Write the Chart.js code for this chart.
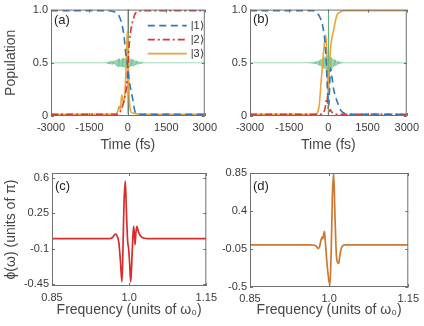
<!DOCTYPE html>
<html>
<head>
<meta charset="utf-8">
<script src="https://cdn.jsdelivr.net/npm/chart.js@4"></script>
<style>
  body { margin: 0; background: #fff; width: 424px; height: 326px; overflow: hidden; position: relative; }
  canvas { position: absolute; }
</style>
</head>
<body>
<canvas id="ca" width="222" height="163" style="left:0;top:0"></canvas>
<canvas id="cb" width="212" height="163" style="left:212px;top:0"></canvas>
<canvas id="cc" width="222" height="163" style="left:0;top:163px"></canvas>
<canvas id="cd" width="212" height="163" style="left:212px;top:163px"></canvas>
<script>
// tick values / labels
const timeTicks = [-3000, -1500, 0, 1500, 3000];
const timeLabels = ['-3000', '-1500', '0', '1500', '3000'];
const popTicks = [0, 0.5, 1];
const popLabels = ['0', '0.5', '1.0'];
const freqTicks = [0.85, 1.0, 1.15];
const freqLabels = ['0.85', '1.0', '1.15'];
const phiTicksC = [-0.45, -0.1, 0.25, 0.6];
const phiLabelsC = ['-0.45', '-0.1', '0.25', '0.6'];
const phiTicksD = [-0.5, -0.05, 0.4, 0.85];
const phiLabelsD = ['-0.5', '-0.05', '0.4', '0.85'];

// (a) populations
const tBlueA = [-3000, -800, -550, -400, -280, -150, -90, 0, 55, 180, 280, 400, 600, 3000];
const blueA = [0.99, 0.99, 0.98, 0.96, 0.9, 0.75, 0.6, 0.45, 0.33, 0.17, 0.04, 0.018, 0.015, 0.015];
const tRedA = [-3000, -400, -300, -200, -150, -30, 30, 100, 180, 280, 400, 600, 3000];
const redA = [0.015, 0.015, 0.04, 0.1, 0.15, 0.33, 0.6, 0.78, 0.88, 0.96, 0.98, 0.99, 0.99];
const tOrangeA = [-3000, -500, -430, -380, -340, -300, -270, -240, -200, -160, -120, -80, -40, -15, 10, 40, 80, 140, 250, 400, 3000];
const orangeA = [0.015, 0.015, 0.025, 0.06, 0.09, 0.06, 0.12, 0.2, 0.15, 0.12, 0.2, 0.4, 0.7, 0.8, 0.62, 0.25, 0.08, 0.035, 0.025, 0.018, 0.015];

// (b) populations
const tBlueB = [-3000, -600, -450, -330, -220, -100, -50, -10, 20, 50, 85, 130, 210, 300, 395, 480, 580, 750, 3000];
const blueB = [0.99, 0.99, 0.975, 0.93, 0.85, 0.6, 0.33, 0.12, 0.1, 0.3, 0.45, 0.38, 0.24, 0.16, 0.1, 0.05, 0.03, 0.015, 0.015];
const tRedB = [-3000, -300, -200, -130, -80, -50, -20, 20, 70, 120, 200, 350, 3000];
const redB = [0.015, 0.015, 0.03, 0.07, 0.15, 0.18, 0.1, 0.04, 0.06, 0.04, 0.025, 0.015, 0.015];
const tOrangeB = [-3000, -500, -420, -350, -285, -185, -130, -95, -60, -30, 0, 25, 60, 90, 150, 210, 330, 450, 600, 3000];
const orangeB = [0.015, 0.015, 0.03, 0.1, 0.3, 0.6, 0.72, 0.76, 0.6, 0.35, 0.2, 0.35, 0.55, 0.66, 0.75, 0.82, 0.95, 0.975, 0.99, 0.99];

// pulse field (shifted to 0.5)
const fieldT = [-3000,
  -900, -875, -850, -825, -800, -775, -750, -725, -700, -675,
  -650, -625, -600, -575, -550, -525, -500, -475, -450, -425,
  -400, -375, -350, -325, -300, -275, -250, -225, -200, -175,
  -150, -125, -100, -75, -50, -25, -5, 0, 5, 25,
  50, 75, 100, 125, 150, 175, 200, 225, 250, 275,
  300, 325, 350, 375, 400, 425, 450, 475, 500, 525,
  550, 575, 600, 625, 650, 675, 700, 725, 750, 775,
  800, 3000];
const fieldA = [0.5,
  0.5, 0.503, 0.496, 0.505, 0.494, 0.508, 0.491, 0.51, 0.488, 0.515,
  0.487, 0.52, 0.483, 0.518, 0.49, 0.512, 0.482, 0.525, 0.472, 0.53,
  0.466, 0.537, 0.462, 0.54, 0.468, 0.53, 0.463, 0.54, 0.46, 0.545,
  0.458, 0.54, 0.455, 0.548, 0.45, 0.55, 0.02, 1.0, 0.45, 0.545,
  0.458, 0.54, 0.465, 0.533, 0.47, 0.535, 0.468, 0.528, 0.475, 0.522,
  0.48, 0.518, 0.485, 0.514, 0.488, 0.512, 0.49, 0.508, 0.493, 0.506,
  0.496, 0.504, 0.497, 0.503, 0.498, 0.502, 0.499, 0.501, 0.5, 0.5,
  0.5, 0.5];
const fieldB = [0.5,
  0.5, 0.5, 0.501, 0.499, 0.502, 0.498, 0.503, 0.497, 0.504, 0.496,
  0.505, 0.495, 0.506, 0.494, 0.507, 0.492, 0.51, 0.489, 0.513, 0.485,
  0.518, 0.48, 0.523, 0.474, 0.53, 0.466, 0.538, 0.458, 0.546, 0.449,
  0.555, 0.441, 0.562, 0.436, 0.566, 0.435, 0.0, 1.0, 0.02, 0.56,
  0.443, 0.553, 0.45, 0.546, 0.457, 0.538, 0.465, 0.53, 0.472, 0.524,
  0.478, 0.518, 0.484, 0.513, 0.489, 0.509, 0.492, 0.506, 0.495, 0.504,
  0.497, 0.503, 0.498, 0.502, 0.499, 0.501, 0.5, 0.5, 0.5, 0.5,
  0.5, 0.5];

// (c), (d) spectral phase
const freqC = [0.85, 0.962, 0.967, 0.971, 0.974, 0.977, 0.980, 0.983, 0.986, 0.988, 0.990, 0.9925, 0.9945, 0.997, 0.999, 1.001, 1.003, 1.005, 1.0072, 1.0087, 1.0102, 1.0115, 1.013, 1.015, 1.018, 1.021, 1.025, 1.03, 1.035, 1.15];
const phiC = [0, 0, 0.008, 0.035, 0.045, 0.02, -0.04, -0.22, -0.43, -0.1, 0.35, 0.57, 0.3, -0.02, -0.1, -0.25, -0.43, -0.25, 0.02, 0.12, 0.04, -0.06, 0.05, 0.12, 0.07, 0.035, 0.012, 0.003, 0, 0];
const freqD = [0.85, 0.965, 0.972, 0.976, 0.979, 0.9815, 0.984, 0.9865, 0.988, 0.9895, 0.991, 0.9925, 0.995, 0.998, 1.0015, 1.004, 1.006, 1.0085, 1.011, 1.0135, 1.016, 1.018, 1.0205, 1.023, 1.026, 1.03, 1.15];
const phiD = [0, 0, -0.005, -0.02, -0.045, -0.03, 0.04, 0.09, 0.07, 0.12, 0.16, 0.06, -0.15, -0.35, -0.48, -0.05, 0.55, 0.85, 0.35, -0.1, -0.21, -0.22, -0.12, -0.04, -0.01, 0, 0];

const FONT = '"Liberation Sans", Arial, sans-serif';
Chart.defaults.font.family = FONT;
Chart.defaults.color = '#3a3a3a';
Chart.defaults.animation = false;

const blue = 'rgb(45,120,190)';
const red = 'rgb(220,55,45)';
const orange = 'rgb(232,165,60)';
const green = 'rgba(100,195,135,0.6)';

function pts(xs, ys) {
  return xs.map((x, i) => ({x: x, y: ys[i]}));
}

// frame, inward ticks, zero line, panel letter, legend
const boxPlugin = {
  id: 'box',
  beforeDatasetsDraw(chart, args, o) {
    if (!o.zero) return;
    const ctx = chart.ctx, a = chart.chartArea;
    const x0 = Math.round(chart.scales.x.getPixelForValue(0)) + 0.5;
    ctx.save();
    ctx.strokeStyle = '#666';
    ctx.lineWidth = 1;
    ctx.beginPath(); ctx.moveTo(x0, a.top); ctx.lineTo(x0, a.bottom); ctx.stroke();
    ctx.restore();
  },
  afterDatasetsDraw(chart, args, o) {
    const ctx = chart.ctx, a = chart.chartArea;
    const sx = chart.scales.x, sy = chart.scales.y;
    ctx.save();
    ctx.strokeStyle = '#707070';
    ctx.lineWidth = 1;
    ctx.strokeRect(a.left + 0.5, a.top + 0.5, a.width - 1, a.height - 1);
    ctx.beginPath();
    sx.ticks.forEach(t => {
      const x = Math.round(sx.getPixelForValue(t.value)) + 0.5;
      ctx.moveTo(x, a.bottom); ctx.lineTo(x, a.bottom - 3);
      ctx.moveTo(x, a.top); ctx.lineTo(x, a.top + 3);
    });
    sy.ticks.forEach(t => {
      const y = Math.round(sy.getPixelForValue(t.value)) + 0.5;
      ctx.moveTo(a.left, y); ctx.lineTo(a.left + 3, y);
      ctx.moveTo(a.right, y); ctx.lineTo(a.right - 3, y);
    });
    ctx.stroke();

    ctx.fillStyle = '#222';
    ctx.font = '13px ' + FONT;
    ctx.textBaseline = 'middle';
    ctx.fillText(o.label, a.left + 3, a.top + o.labelDy);

    if (o.legend) {
      ctx.font = '11px ' + FONT;
      chart.data.datasets.filter(d => d.label !== 'field').forEach((d, i) => {
        const y = a.top + 16 + i * 14;
        ctx.strokeStyle = d.borderColor;
        ctx.lineWidth = d.borderWidth;
        ctx.setLineDash(d.borderDash || []);
        ctx.beginPath(); ctx.moveTo(a.right - 57, y); ctx.lineTo(a.right - 18, y); ctx.stroke();
        ctx.setLineDash([]);
        ctx.fillStyle = '#333';
        ctx.fillText(d.label, a.right - 14, y);
      });
    }
    ctx.restore();
  }
};

function opts(p) {
  return {
    responsive: false,
    animation: false,
    layout: { padding: p.padding },
    elements: { point: { radius: 0 }, line: { borderWidth: 1.6 } },
    plugins: {
      legend: { display: false },
      tooltip: { enabled: false },
      box: { label: p.label, labelDy: p.labelDy, zero: p.zero, legend: p.legend }
    },
    scales: {
      x: {
        type: 'linear', min: p.xMin, max: p.xMax,
        grid: { display: false, drawTicks: false },
        border: { display: false },
        afterBuildTicks: s => { s.ticks = p.xTicks.map(v => ({ value: v })); },
        afterFit: s => { s.height = p.xHeight; },
        ticks: { autoSkip: false, maxRotation: 0, padding: 5, font: { size: 11 },
                 callback: (v, i) => p.xLabels[i] },
        title: { display: true, text: p.xTitle, color: '#454545', font: { size: 14 },
                 padding: { top: 0, bottom: p.xTitlePad } }
      },
      y: {
        min: p.yMin, max: p.yMax,
        grid: { display: false, drawTicks: false },
        border: { display: false },
        afterBuildTicks: s => { s.ticks = p.yTicks.map(v => ({ value: v })); },
        afterFit: s => { s.width = p.yWidth; },
        ticks: { autoSkip: false, padding: 3, font: { size: 11 },
                 callback: (v, i) => p.yLabels[i] },
        title: { display: !!p.yTitle, text: p.yTitle, color: '#454545', font: { size: 14 },
                 padding: { top: 0, bottom: 0 } }
      }
    }
  };
}

function popSets(tb, b, tr, r, to, or, f) {
  return [
    { label: '|1⟩', data: pts(tb, b), borderColor: blue, borderDash: [7, 4.5], borderWidth: 1.6, cubicInterpolationMode: 'monotone' },
    { label: '|2⟩', data: pts(tr, r), borderColor: red, borderDash: [7, 3, 2, 3], borderWidth: 1.6, cubicInterpolationMode: 'monotone' },
    { label: '|3⟩', data: pts(to, or), borderColor: orange, borderWidth: 1.6, cubicInterpolationMode: 'monotone' },
    { label: 'field', data: pts(fieldT, f), borderColor: green, borderWidth: 1, tension: 0 }
  ];
}

new Chart(document.getElementById('ca'), {
  type: 'line',
  data: { datasets: popSets(tBlueA, blueA, tRedA, redA, tOrangeA, orangeA, fieldA) },
  options: opts({
    padding: { left: 3, top: 6, right: 8, bottom: 6 }, yWidth: 48, xHeight: 41,
    xMin: -3000, xMax: 3000, xTicks: timeTicks, xLabels: timeLabels, xTitle: 'Time (fs)', xTitlePad: 3,
    yMin: 0, yMax: 1, yTicks: popTicks, yLabels: popLabels, yTitle: 'Population',
    label: '(a)', labelDy: 11, zero: true, legend: true
  }),
  plugins: [boxPlugin]
});

new Chart(document.getElementById('cb'), {
  type: 'line',
  data: { datasets: popSets(tBlueB, blueB, tRedB, redB, tOrangeB, orangeB, fieldB) },
  options: opts({
    padding: { left: 0, top: 6, right: 12, bottom: 6 }, yWidth: 38, xHeight: 41,
    xMin: -3000, xMax: 3000, xTicks: timeTicks, xLabels: timeLabels, xTitle: 'Time (fs)', xTitlePad: 3,
    yMin: 0, yMax: 1, yTicks: popTicks, yLabels: popLabels, yTitle: '',
    label: '(b)', labelDy: 10, zero: true, legend: false
  }),
  plugins: [boxPlugin]
});

new Chart(document.getElementById('cc'), {
  type: 'line',
  data: { datasets: [
    { label: 'phase', data: pts(freqC, phiC), borderColor: 'rgb(215,45,45)', borderWidth: 1.7, cubicInterpolationMode: 'monotone' }
  ] },
  options: opts({
    padding: { left: 3, top: 10, right: 8, bottom: 6 }, yWidth: 49, xHeight: 34,
    xMin: 0.85, xMax: 1.15, xTicks: freqTicks, xLabels: freqLabels, xTitle: 'Frequency (units of ω₀)', xTitlePad: 1,
    yMin: -0.47, yMax: 0.65, yTicks: phiTicksC, yLabels: phiLabelsC, yTitle: 'ϕ(ω) (units of π)',
    label: '(c)', labelDy: 13, zero: false, legend: false
  }),
  plugins: [boxPlugin]
});

new Chart(document.getElementById('cd'), {
  type: 'line',
  data: { datasets: [
    { label: 'phase', data: pts(freqD, phiD), borderColor: 'rgb(205,120,50)', borderWidth: 1.7, cubicInterpolationMode: 'monotone' }
  ] },
  options: opts({
    padding: { left: 0, top: 10, right: 12, bottom: 6 }, yWidth: 38, xHeight: 33,
    xMin: 0.85, xMax: 1.15, xTicks: freqTicks, xLabels: freqLabels, xTitle: 'Frequency (units of ω₀)', xTitlePad: 1,
    yMin: -0.5, yMax: 0.85, yTicks: phiTicksD, yLabels: phiLabelsD, yTitle: '',
    label: '(d)', labelDy: 13, zero: false, legend: false
  }),
  plugins: [boxPlugin]
});
</script>
</body>
</html>
